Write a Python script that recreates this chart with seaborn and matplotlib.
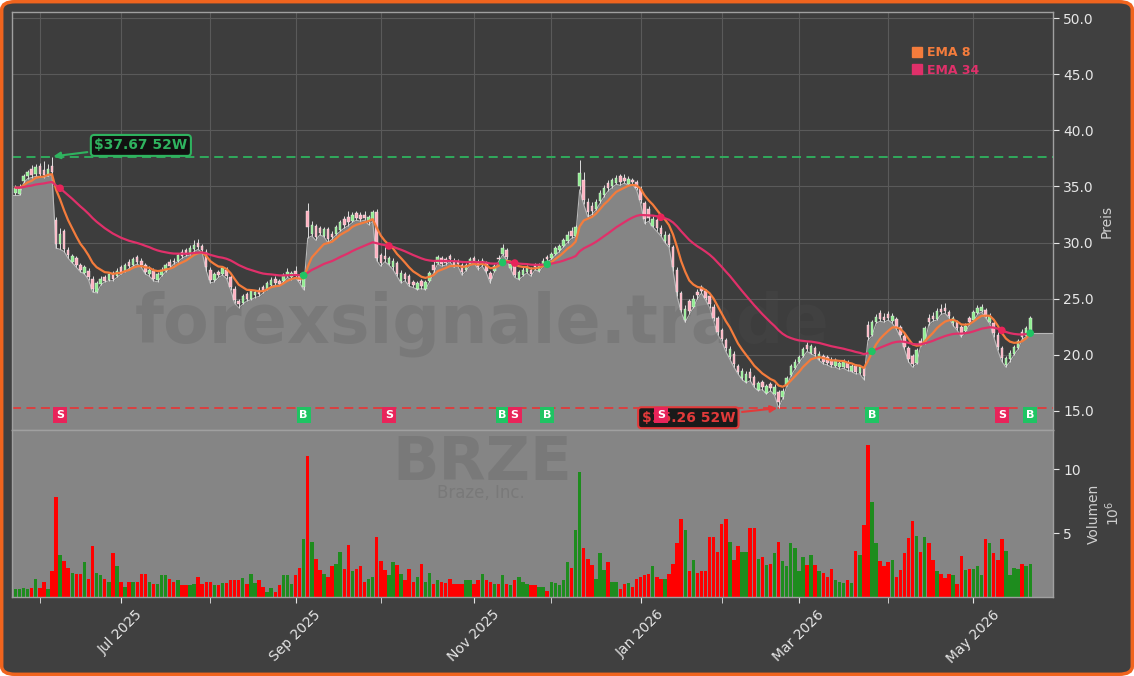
import numpy as np
import pandas as pd
import matplotlib
matplotlib.use("Agg")
import matplotlib.pyplot as plt
import matplotlib.transforms as mtransforms
from matplotlib.patches import FancyBboxPatch
from matplotlib.lines import Line2D
import seaborn as sns

# BRZE Tageskerzen, 22.05.2025 - 21.05.2026 (Handelstage)
start_date = "2025-05-22"
end_date = "2026-05-21"
holidays = ["2025-05-26", "2025-06-19", "2025-07-04", "2025-09-01", "2025-11-27",
            "2025-12-25", "2026-01-01", "2026-01-19", "2026-02-16", "2026-04-03"]

opens = [
    34.4, 34.3, 35.5, 35.9, 36.6, 36.1, 36.8, 36.5, 36.1, 36.8,
    32.0, 29.9, 31.0, 29.3, 28.3, 28.6, 28.0, 27.3, 27.5, 26.8,
    25.6, 26.3, 26.9, 26.7, 27.3, 27.0, 27.8, 27.5, 28.3, 28.0,
    28.7, 28.4, 28.0, 27.2, 27.5, 26.7, 27.1, 27.5, 28.3, 28.4,
    28.4, 29.2, 29.3, 29.0, 29.4, 30.0, 29.7, 29.2, 27.6, 26.7,
    27.4, 27.2, 27.6, 26.9, 25.9, 24.8, 24.6, 25.4, 25.0, 25.3,
    25.8, 26.0, 25.9, 26.2, 26.8, 26.6, 26.6, 27.0, 26.9, 27.5,
    27.1, 26.0, 32.8, 30.8, 31.5, 31.3, 30.6, 31.2, 30.8, 30.8,
    31.1, 32.1, 32.3, 31.9, 32.6, 32.5, 32.5, 31.8, 32.0, 32.7,
    28.9, 28.8, 28.1, 27.8, 28.2, 26.6, 27.2, 27.0, 26.5, 25.9,
    26.6, 25.9, 26.6, 28.0, 28.2, 28.6, 28.5, 28.8, 28.4, 28.3,
    28.0, 27.6, 28.1, 28.6, 28.3, 28.0, 28.2, 27.3, 27.5, 28.6,
    29.0, 29.3, 27.7, 27.9, 26.8, 27.1, 27.4, 27.6, 28.0, 27.5,
    28.0, 28.7, 28.6, 29.0, 29.3, 29.7, 30.1, 31.0, 30.6, 35.0,
    35.6, 33.6, 33.3, 33.0, 33.7, 34.2, 35.3, 35.0, 35.3, 35.9,
    35.8, 35.2, 35.6, 35.4, 34.8, 33.5, 33.0, 31.5, 32.0, 31.3,
    30.1, 30.7, 29.6, 27.6, 25.5, 23.1, 24.8, 24.3, 25.6, 26.0,
    25.7, 25.2, 24.3, 23.3, 22.2, 21.3, 19.8, 20.1, 19.0, 17.9,
    17.6, 18.5, 18.0, 16.9, 17.6, 16.6, 17.4, 16.5, 16.7, 16.2,
    17.3, 18.2, 18.8, 19.4, 19.9, 20.9, 20.2, 20.6, 19.6, 19.9,
    19.8, 19.5, 19.0, 18.9, 18.9, 19.3, 18.6, 19.0, 18.4, 18.8,
    22.7, 21.8, 22.9, 23.7, 23.4, 23.6, 23.0, 23.2, 22.5, 21.7,
    20.6, 19.9, 19.3, 21.2, 21.1, 23.3, 23.5, 23.2, 24.1, 24.2,
    23.8, 22.8, 22.9, 22.5, 22.1, 23.3, 23.1, 23.7, 23.9, 24.0,
    22.9, 22.8, 21.8, 20.6, 19.1, 19.6, 20.1, 20.6, 22.0, 21.7, 22.2,
]
highs = [
    35.1, 35.2, 36.1, 36.5, 36.9, 37.0, 37.1, 37.3, 37.0, 37.67,
    32.3, 31.3, 31.2, 29.6, 29.0, 28.8, 28.2, 28.0, 27.7, 27.0,
    26.6, 27.0, 27.1, 27.4, 27.5, 27.7, 28.0, 28.2, 28.5, 28.7,
    28.9, 28.6, 28.2, 27.9, 27.7, 27.4, 27.8, 28.2, 28.5, 28.6,
    29.1, 29.4, 29.5, 29.8, 30.2, 30.3, 29.9, 29.4, 27.8, 27.4,
    27.6, 27.9, 27.8, 27.1, 26.1, 25.0, 25.4, 25.6, 25.9, 25.8,
    26.0, 26.2, 26.6, 26.9, 27.0, 26.8, 27.3, 27.7, 27.5, 27.9,
    27.3, 27.2, 33.5, 31.9, 31.7, 31.5, 31.4, 31.4, 31.0, 31.6,
    32.0, 32.4, 32.8, 32.7, 32.8, 32.7, 32.8, 32.5, 32.9, 33.0,
    29.1, 29.6, 28.8, 28.6, 28.4, 27.6, 27.4, 27.2, 26.7, 26.6,
    26.8, 26.7, 27.5, 28.4, 28.9, 28.8, 28.7, 29.0, 28.6, 28.5,
    28.2, 28.2, 28.7, 28.8, 28.5, 28.6, 28.4, 27.5, 28.1, 28.9,
    29.9, 29.5, 28.3, 28.1, 27.6, 27.8, 28.0, 27.8, 28.2, 28.2,
    28.6, 28.9, 29.2, 29.7, 29.9, 30.4, 31.0, 31.4, 31.6, 37.4,
    36.3, 34.0, 33.6, 33.9, 34.7, 35.1, 35.6, 35.8, 36.0, 36.1,
    36.1, 35.9, 35.8, 35.6, 35.0, 33.7, 33.3, 32.4, 32.2, 31.6,
    31.0, 30.9, 29.8, 27.8, 25.7, 24.4, 25.0, 25.3, 25.9, 26.2,
    25.9, 25.4, 24.5, 23.5, 22.4, 21.5, 20.8, 20.3, 19.2, 18.8,
    18.6, 18.8, 18.2, 17.7, 17.8, 17.4, 17.6, 17.4, 16.9, 17.0,
    18.1, 19.2, 19.6, 20.0, 20.7, 21.1, 21.0, 20.8, 20.3, 20.1,
    20.0, 19.8, 19.7, 19.5, 19.6, 19.5, 19.2, 19.2, 19.1, 19.0,
    23.0, 23.1, 23.6, 24.0, 23.7, 23.9, 23.7, 23.4, 22.7, 21.9,
    20.8, 20.1, 20.6, 21.5, 22.6, 23.6, 23.8, 24.2, 24.5, 24.6,
    24.0, 23.5, 23.1, 22.7, 22.8, 23.5, 24.0, 24.4, 24.5, 24.2,
    23.7, 23.0, 22.0, 20.8, 19.9, 20.4, 20.9, 21.4, 22.3, 22.6, 23.5,
]
lows = [
    34.2, 34.2, 35.3, 35.7, 35.8, 35.9, 35.9, 35.8, 35.9, 36.0,
    29.5, 29.4, 29.2, 28.6, 28.2, 27.8, 27.4, 27.2, 26.7, 25.6,
    25.5, 26.2, 26.5, 26.6, 26.6, 26.9, 27.2, 27.4, 27.7, 27.9,
    28.1, 27.8, 27.2, 27.0, 26.6, 26.5, 27.0, 27.4, 27.7, 28.1,
    28.3, 28.6, 28.8, 28.9, 29.2, 29.4, 29.1, 27.5, 26.4, 26.5,
    26.9, 27.1, 26.8, 25.8, 24.6, 24.2, 24.5, 24.8, 24.9, 25.1,
    25.2, 25.5, 25.8, 26.1, 26.2, 26.2, 26.5, 26.9, 26.7, 26.9,
    26.4, 25.8, 30.4, 30.6, 30.2, 30.7, 30.5, 30.0, 30.3, 30.7,
    31.0, 31.3, 31.5, 31.8, 32.0, 31.9, 32.0, 31.6, 31.9, 28.4,
    27.9, 28.3, 28.0, 27.6, 27.0, 26.4, 26.6, 26.1, 26.0, 25.8,
    25.9, 25.8, 26.5, 27.3, 28.1, 27.9, 28.0, 28.3, 27.8, 27.9,
    27.1, 27.5, 28.0, 28.2, 27.6, 27.9, 27.3, 26.4, 27.4, 28.3,
    28.9, 28.5, 27.6, 26.9, 26.7, 27.0, 27.3, 27.0, 27.6, 27.4,
    27.9, 28.3, 28.5, 28.9, 29.2, 29.6, 30.0, 30.4, 30.5, 34.7,
    33.4, 32.3, 32.5, 32.9, 33.5, 34.1, 34.6, 34.9, 35.2, 35.1,
    35.3, 35.1, 35.2, 34.7, 33.5, 31.7, 31.9, 31.4, 31.0, 30.6,
    30.0, 29.6, 27.5, 25.2, 23.8, 22.9, 23.6, 24.2, 25.0, 25.5,
    24.9, 24.2, 23.0, 21.8, 21.2, 20.3, 19.6, 18.9, 18.3, 17.8,
    17.5, 17.7, 17.1, 16.8, 16.9, 16.5, 16.8, 16.4, 15.26, 16.1,
    17.2, 18.1, 18.7, 19.3, 19.8, 20.3, 20.1, 19.9, 19.5, 19.2,
    19.1, 18.9, 18.9, 18.7, 18.8, 18.6, 18.5, 18.3, 18.3, 17.8,
    21.3, 21.7, 22.8, 23.0, 22.9, 23.1, 22.8, 22.3, 21.6, 20.5,
    19.4, 18.9, 19.2, 20.8, 21.0, 22.7, 23.0, 23.1, 23.6, 23.7,
    23.3, 22.6, 22.2, 21.6, 22.0, 22.7, 23.0, 23.6, 23.8, 23.3,
    22.8, 21.6, 20.4, 19.4, 18.9, 19.4, 20.0, 20.5, 21.4, 21.6, 21.9,
]
closes = [
    34.9, 34.8, 35.9, 36.3, 36.0, 36.7, 36.1, 36.0, 36.6, 36.3,
    29.9, 30.8, 29.4, 28.9, 28.8, 28.0, 27.6, 27.8, 26.9, 25.9,
    26.4, 26.8, 26.6, 27.2, 26.8, 27.5, 27.4, 28.0, 27.9, 28.5,
    28.3, 28.0, 27.4, 27.6, 26.8, 27.2, 27.6, 28.0, 27.9, 28.3,
    28.9, 28.8, 29.0, 29.5, 29.8, 29.6, 29.3, 27.8, 26.7, 27.2,
    27.1, 27.7, 27.0, 26.0, 24.9, 24.5, 25.2, 25.0, 25.7, 25.6,
    25.4, 25.7, 26.4, 26.7, 26.4, 26.3, 27.1, 27.4, 27.3, 27.2,
    26.6, 26.9, 31.4, 31.6, 30.5, 30.9, 31.2, 30.3, 30.5, 31.4,
    31.8, 31.6, 31.8, 32.5, 32.2, 32.1, 32.2, 32.3, 32.7, 28.6,
    28.2, 28.5, 28.6, 28.4, 27.2, 27.3, 26.8, 26.3, 26.2, 26.4,
    26.1, 26.5, 27.3, 27.6, 28.7, 28.1, 28.2, 28.5, 28.0, 28.1,
    27.4, 28.0, 28.5, 28.4, 27.8, 28.4, 27.5, 26.8, 27.9, 28.5,
    29.5, 28.7, 28.1, 27.1, 27.4, 27.6, 27.8, 27.2, 27.8, 28.0,
    28.4, 28.5, 29.0, 29.5, 29.7, 30.2, 30.7, 30.6, 31.4, 36.2,
    33.8, 32.7, 32.8, 33.6, 34.4, 34.9, 34.9, 35.6, 35.8, 35.4,
    35.5, 35.7, 35.4, 34.9, 33.8, 32.1, 32.2, 32.1, 31.3, 30.8,
    30.7, 29.8, 27.8, 25.6, 24.0, 24.1, 23.9, 25.0, 25.3, 25.7,
    25.1, 24.5, 23.3, 22.0, 21.4, 20.6, 20.5, 19.2, 18.5, 18.6,
    18.3, 17.9, 17.3, 17.5, 17.1, 17.2, 17.0, 17.1, 15.8, 16.8,
    17.9, 19.0, 19.4, 19.8, 20.5, 20.5, 20.8, 20.1, 20.1, 19.4,
    19.3, 19.1, 19.5, 19.3, 19.4, 18.8, 19.0, 18.5, 18.9, 18.1,
    21.6, 22.9, 23.4, 23.2, 23.1, 23.3, 23.5, 22.5, 21.8, 20.7,
    19.6, 19.2, 20.4, 21.0, 22.4, 22.9, 23.2, 23.9, 23.8, 23.9,
    23.5, 23.3, 22.4, 21.8, 22.6, 22.9, 23.8, 24.2, 24.3, 23.5,
    23.5, 21.9, 20.7, 19.7, 19.7, 20.2, 20.7, 21.2, 21.6, 22.4, 23.3,
]
# Volumen in Mio. Stueck
volumes = [
    0.6, 0.6, 0.7, 0.6, 0.7, 1.4, 0.7, 1.2, 0.6, 2.0,
    7.8, 3.3, 2.8, 2.3, 1.9, 1.8, 1.8, 2.7, 1.4, 4.0,
    1.9, 1.7, 1.4, 1.2, 3.4, 2.4, 1.2, 0.8, 1.2, 1.2,
    1.2, 1.8, 1.8, 1.2, 1.0, 1.0, 1.7, 1.7, 1.4, 1.2,
    1.3, 0.9, 0.9, 0.9, 1.0, 1.6, 1.0, 1.2, 1.2, 0.9,
    0.9, 1.1, 1.1, 1.3, 1.3, 1.3, 1.5, 1.0, 1.8, 1.1,
    1.3, 0.8, 0.4, 0.7, 0.4, 0.9, 1.7, 1.7, 1.0, 1.7,
    2.3, 4.5, 11.0, 4.3, 3.0, 2.1, 1.8, 1.6, 2.4, 2.6,
    3.5, 2.2, 4.1, 2.0, 2.2, 2.4, 1.2, 1.4, 1.6, 4.7,
    2.8, 2.1, 1.7, 2.7, 2.5, 1.8, 1.3, 2.2, 1.2, 1.6,
    2.6, 1.2, 1.9, 1.0, 1.3, 1.2, 1.1, 1.4, 1.0, 1.0,
    1.0, 1.3, 1.3, 1.0, 1.3, 1.8, 1.3, 1.2, 1.0, 1.0,
    1.7, 1.0, 0.9, 1.3, 1.6, 1.2, 1.0, 0.9, 0.9, 0.8,
    0.8, 0.5, 1.2, 1.1, 0.9, 1.3, 2.7, 2.3, 5.2, 9.8,
    3.8, 3.0, 2.5, 1.4, 3.4, 2.1, 2.7, 1.2, 1.2, 0.6,
    1.0, 1.1, 0.8, 1.4, 1.6, 1.7, 1.8, 2.4, 1.6, 1.4,
    1.4, 1.8, 2.6, 4.2, 6.1, 5.2, 2.0, 2.9, 1.9, 2.0,
    2.0, 4.7, 4.7, 3.5, 5.7, 6.1, 4.3, 2.9, 4.0, 3.5,
    3.5, 5.4, 5.4, 3.0, 3.1, 2.5, 2.6, 3.4, 4.3, 2.8,
    2.4, 4.2, 3.8, 2.0, 3.1, 2.5, 3.3, 2.5, 2.0, 1.9,
    1.6, 2.2, 1.3, 1.2, 1.1, 1.3, 1.1, 3.6, 3.3, 5.6,
    11.9, 7.4, 4.2, 2.8, 2.4, 2.7, 2.9, 1.6, 2.1, 3.4,
    4.6, 5.9, 4.8, 3.5, 4.7, 4.2, 2.9, 2.0, 1.8, 1.5,
    1.8, 1.7, 1.0, 3.2, 2.1, 2.2, 2.2, 2.4, 1.7, 4.5,
    4.2, 3.4, 2.9, 4.5, 3.6, 1.7, 2.3, 2.2, 2.6, 2.4, 2.6,
]

# EMA-Kreuzungen (Index des Handelstags, Typ)
signal_idx = [11, 71, 92, 120, 123, 131, 159, 211, 243, 250]
signal_typ = ["S", "B", "S", "B", "S", "B", "S", "B", "S", "B"]

high_52w = 37.67
low_52w = 15.26

# Farben
c_bg = "#404040"
c_ax = "#3d3d3d"
c_fill = "#858585"
c_ema8 = "#f47c3c"
c_ema34 = "#e0306a"
c_green = "#2fb35f"
c_red = "#e23a3a"
c_buy = "#1fc463"
c_sell = "#e8245a"

dates = pd.bdate_range(start_date, end_date)
dates = dates[~dates.isin(pd.to_datetime(holidays))]

df = pd.DataFrame({"date": dates, "open": opens, "high": highs, "low": lows,
                   "close": closes, "volume": volumes})
df["ema8"] = df["close"].ewm(span=8, adjust=False).mean()
df["ema34"] = df["close"].ewm(span=34, adjust=False).mean()
idx = np.arange(len(df))
up = (df["close"] >= df["open"]).values

sns.set_style("dark")
plt.rcParams["font.family"] = ["DejaVu Sans"]

fig = plt.figure(figsize=(11.34, 6.76), dpi=100, facecolor="white")
fig.patches.append(FancyBboxPatch((0.0015, 0.0025), 0.997, 0.995,
                                  boxstyle="round,pad=0,rounding_size=0.012",
                                  transform=fig.transFigure, facecolor=c_bg,
                                  edgecolor="#f0641e", linewidth=2.5, zorder=-5))

W, H = 1134, 676
ax = fig.add_axes([12 / W, 1 - 430 / H, (1053 - 12) / W, (430 - 12) / H])
axv = fig.add_axes([12 / W, 1 - 597 / H, (1053 - 12) / W, (597 - 430) / H], sharex=ax)

xl, xr = -0.85, 255.6
ylo, yhi = 13.3, 50.55

# ---------- Kurs-Panel ----------
ax.set_facecolor(c_ax)
xf = np.concatenate([[xl], idx, [xr]])
lf = np.concatenate([[lows[0]], lows, [lows[-1]]])
ax.fill_between(xf, lf, ylo, color=c_fill, lw=0, zorder=1)
ax.plot(xf, lf, color="#b8b8b8", lw=0.8, zorder=1.2)

ax.text(0.4515, 0.253, "forexsignale.trade", transform=ax.transAxes, fontsize=48,
        fontweight="bold", color="#505050", alpha=0.22, ha="center", va="center", zorder=1.5)

ax.axhline(high_52w, color=c_green, ls=(0, (5, 3)), lw=1.3, zorder=2.2)
ax.axhline(low_52w, color=c_red, ls=(0, (5, 3)), lw=1.3, zorder=2.2)

# Kerzen
ax.vlines(idx, df["low"], df["high"], color="#dcdcdc", lw=0.7, zorder=2.4)
body_lo = np.minimum(df["open"], df["close"])
body_h = np.maximum(np.abs(df["close"] - df["open"]), 0.06)
ax.bar(idx, body_h, bottom=body_lo, width=0.62,
       color=np.where(up, "#90ee90", "#ffb0c0"), edgecolor="#f4f4f4",
       linewidth=0.3, zorder=2.5)

sns.lineplot(x=idx, y=df["ema8"].values, ax=ax, color=c_ema8, lw=1.6, zorder=3)
sns.lineplot(x=idx, y=df["ema34"].values, ax=ax, color=c_ema34, lw=1.6, zorder=3)

# Signale
trans = mtransforms.blended_transform_factory(ax.transData, ax.transAxes)
for i, t in zip(signal_idx, signal_typ):
    col = c_buy if t == "B" else c_sell
    ax.scatter(i, df["ema34"][i], s=30, color=col, edgecolor="none", zorder=4)
    ax.text(i, 0.036, t, transform=trans, ha="center", va="center", color="white",
            fontsize=8, fontweight="bold", zorder=6,
            bbox=dict(boxstyle="square,pad=0.25", fc=col, ec="none"))

# 52W Hoch / Tief
i_hi = int(np.argmax(highs))
i_lo = int(np.argmin(lows))
ax.annotate(r"\$%.2f 52W" % high_52w, xy=(i_hi, high_52w), xytext=(64, 8),
            textcoords="offset points", ha="center", va="center", color=c_green,
            fontsize=10, fontweight="bold", zorder=7,
            bbox=dict(boxstyle="round,pad=0.25", fc="#111111", ec=c_green, lw=1.5),
            arrowprops=dict(arrowstyle="-|>", color=c_green, lw=1.5, shrinkB=1))
ax.annotate(r"\$%.2f 52W" % low_52w, xy=(i_lo, low_52w), xytext=(-65, -7),
            textcoords="offset points", ha="center", va="center", color=c_red,
            fontsize=10, fontweight="bold", zorder=5,
            bbox=dict(boxstyle="round,pad=0.25", fc="#1a1a1a", ec=c_red, lw=1.5),
            arrowprops=dict(arrowstyle="-|>", color=c_red, lw=1.5, shrinkB=1))

handles = [Line2D([], [], marker="s", ls="", color=c_ema8, markersize=7, label="EMA 8"),
           Line2D([], [], marker="s", ls="", color=c_ema34, markersize=7, label="EMA 34")]
leg = ax.legend(handles=handles, loc="upper left", bbox_to_anchor=(0.853, 0.945),
                frameon=False, handletextpad=0.25, labelspacing=0.35, handlelength=1.0,
                prop={"weight": "bold", "size": 9})
for txt, c in zip(leg.get_texts(), [c_ema8, c_ema34]):
    txt.set_color(c)

ax.set_ylim(ylo, yhi)
ax.set_yticks(np.arange(15, 51, 5))
ax.set_yticklabels(["%.1f" % v for v in np.arange(15, 51, 5)])
ax.yaxis.tick_right()
ax.yaxis.set_label_position("right")
ax.set_ylabel("Preis", color="#cfcfcf", fontsize=10)
ax.tick_params(axis="y", colors="#e6e6e6", labelsize=10, length=4, right=True, left=False)
ax.tick_params(axis="x", which="both", bottom=False, labelbottom=False)
ax.grid(True, which="both", color="#5a5a5a", lw=0.8, zorder=0)
ax.set_axisbelow(True)

# ---------- Volumen-Panel ----------
axv.set_facecolor(c_fill)
axv.text(0.4515, 0.80, "BRZE", transform=axv.transAxes, fontsize=44, fontweight="bold",
         color="#505050", alpha=0.22, ha="center", va="center", zorder=1)
axv.text(0.45, 0.62, "Braze, Inc.", transform=axv.transAxes, fontsize=12,
         color="#505050", alpha=0.22, ha="center", va="center", zorder=1)
axv.bar(idx, df["volume"], width=0.85, color=np.where(up, "#1e8c1e", "#ff0000"),
        linewidth=0, zorder=2)
axv.set_ylim(0, 13.05)
axv.set_yticks([5, 10])
axv.yaxis.tick_right()
axv.yaxis.set_label_position("right")
axv.set_ylabel("Volumen\n$10^6$", color="#cfcfcf", fontsize=10)
axv.tick_params(axis="y", colors="#e6e6e6", labelsize=10, length=4, right=True, left=False)
axv.grid(False)

# Monatsticks
month = df["date"].dt.to_period("M").values
starts = [i for i in idx[1:] if month[i] != month[i - 1]]
major = [i for i in starts if df["date"][i].month % 2 == 1]
minor = [i for i in starts if df["date"][i].month % 2 == 0]
axv.set_xticks(major)
axv.set_xticklabels([df["date"][i].strftime("%b %Y") for i in major], rotation=45)
axv.set_xticks(minor, minor=True)
axv.tick_params(axis="x", which="both", colors="#e6e6e6", labelsize=10, length=4,
                bottom=True)
axv.set_xlim(xl, xr)

for a in (ax, axv):
    for s in a.spines.values():
        s.set_color("#a0a0a0")
        s.set_linewidth(1.0)

fig.savefig("out.png", dpi=100, facecolor=fig.get_facecolor())
